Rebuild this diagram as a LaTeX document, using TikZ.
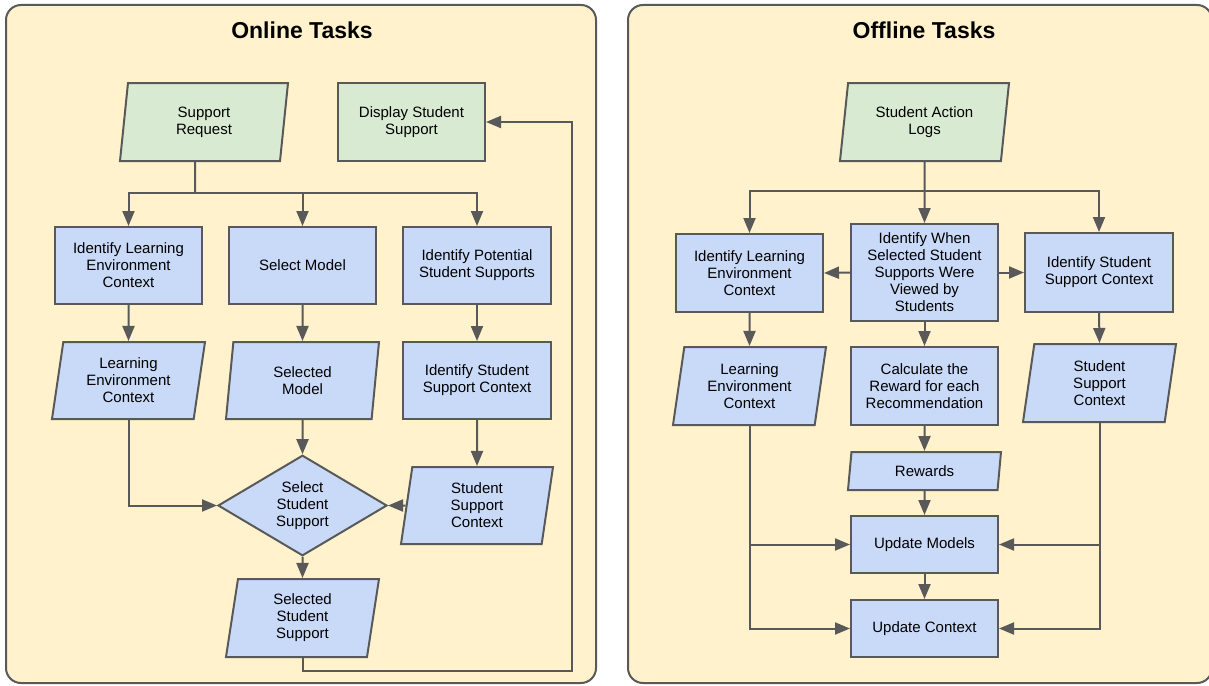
\documentclass[tikz,border=0pt]{standalone}
\usepackage{fontspec}
\setmainfont{Liberation Sans}
\usetikzlibrary{shapes.geometric,arrows.meta}
\definecolor{panelfill}{HTML}{FFF2CC}
\definecolor{linegray}{HTML}{595959}
\definecolor{boxblue}{HTML}{C9DAF8}
\definecolor{boxgreen}{HTML}{D9EAD3}
\begin{document}
\begin{tikzpicture}[x=1pt,y=-1pt,
  every node/.style={font=\fontsize{15}{17}\selectfont, align=center, text=black},
  base/.style={draw=linegray, line width=2pt, inner sep=2pt},
  procbox/.style={base, rectangle, fill=boxblue, minimum width=147pt, minimum height=77pt},
  iobox/.style={base, trapezium, trapezium left angle=77, trapezium right angle=103,
    trapezium stretches body, fill=boxblue, minimum width=153pt, minimum height=77pt},
  decbox/.style={base, diamond, fill=boxblue, minimum width=169pt, minimum height=95pt, inner sep=0pt},
  greenfill/.style={fill=boxgreen},
  conn/.style={draw=linegray, line width=2pt},
  arr/.style={conn, -{Triangle[length=15pt,width=12pt]}},
  panel/.style={draw=linegray, line width=2pt, fill=panelfill, rounded corners=15pt},
  title/.style={font=\fontsize{23}{27}\selectfont\bfseries}
]
\useasboundingbox (0,0) rectangle (1209,685);
\clip (0,0) rectangle (1209,685);
% panels
\path[panel] (6,5) rectangle (596,683);
\path[panel] (628,5) rectangle (1212,683);
\node[title] (tonl) at (302,30) {Online Tasks};
\node[title] (toff) at (924,30) {Offline Tasks};

% ---------- Online ----------
\node[iobox, greenfill, minimum width=168pt, minimum height=78pt] (sr) at (204,122) {Support\\Request};
\node[procbox, greenfill, minimum height=78pt] (dss) at (411.5,122) {Display Student\\Support};
\node[procbox] (ilec) at (128.5,265.5) {Identify Learning\\Environment\\Context};
\node[procbox] (sm) at (302.5,265.5) {Select Model};
\node[procbox, minimum width=148pt] (ipss) at (477,265.5) {Identify Potential\\Student Supports};
\node[iobox] (lec) at (128.5,380.5) {Learning\\Environment\\Context};
\node[iobox] (selm) at (302.5,380.5) {Selected\\Model};
\node[procbox, minimum width=148pt] (issc) at (477,380.5) {Identify Student\\Support Context};
\node[decbox] (dia) at (302.5,505.5) {Select\\Student\\Support};
\node[iobox, minimum width=152pt] (ssc) at (477,505.5) {Student\\Support\\Context};
\node[iobox, minimum height=78pt] (sss) at (302.5,618) {Selected\\Student\\Support};

\coordinate (jl) at (195,193);
\draw[conn] ([xshift=-9pt]sr.south) -- (jl);
\draw[arr] (jl) -| (ilec.north);
\draw[arr] (jl) -| (sm.north);
\draw[arr] (jl) -| (ipss.north);
\draw[arr] (ilec.south) -- (lec.north);
\draw[arr] (sm.south) -- (selm.north);
\draw[arr] (ipss.south) -- (issc.north);
\draw[arr] (selm.south) -- (dia.north);
\draw[arr] (issc.south) -- (ssc.north);
\draw[arr] (lec.south) |- (dia.west);
\draw[arr] (ssc.west) -- (dia.east);
\draw[arr] (dia.south) -- (sss.north);
\coordinate (loopc) at (572,671);
\draw[arr] (sss.south) |- (loopc) |- (dss.east);

% ---------- Offline ----------
\node[iobox, greenfill, minimum width=169pt, minimum height=78pt] (sal) at (924.5,122) {Student Action\\Logs};
\node[procbox, minimum height=78pt] (ilec2) at (749.5,273) {Identify Learning\\Environment\\Context};
\node[procbox, minimum height=97pt] (iwss) at (924.5,272.5) {Identify When\\Selected Student\\Supports Were\\Viewed by\\Students};
\node[procbox, minimum width=148pt, minimum height=79pt] (issc2) at (1099,272.5) {Identify Student\\Support Context};
\node[iobox, minimum height=78pt] (lec2) at (749.5,386) {Learning\\Environment\\Context};
\node[procbox, minimum height=78pt] (cr) at (924.5,386) {Calculate the\\Reward for each\\Recommendation};
\node[iobox, minimum height=78pt] (ssc2) at (1099.5,383) {Student\\Support\\Context};
\node[iobox, minimum height=38pt] (rew) at (924.5,471) {Rewards};
\node[procbox, minimum height=57pt] (um) at (924.5,544.5) {Update Models};
\node[procbox, minimum height=57pt] (uc) at (924.5,628.5) {Update Context};

\coordinate (jr) at (924.5,191);
\draw[arr] (sal.south) -- (iwss.north);
\draw[arr] (jr) -| (ilec2.north);
\draw[arr] (jr) -| (issc2.north);
\draw[arr] (iwss.west) -- (ilec2.east);
\draw[arr] (iwss.east) -- (issc2.west);
\draw[arr] (ilec2.south) -- (lec2.north);
\draw[arr] (iwss.south) -- (cr.north);
\draw[arr] (issc2.south) -- (ssc2.north);
\draw[arr] (cr.south) -- (rew.north);
\draw[arr] (rew.south) -- (um.north);
\draw[arr] (um.south) -- (uc.north);
\draw[arr] (lec2.south) |- (uc.west);
\draw[arr] (lec2.south |- um.west) -- (um.west);
\draw[arr] (ssc2.south) |- (uc.east);
\draw[arr] (ssc2.south |- um.east) -- (um.east);
\end{tikzpicture}
\end{document}
